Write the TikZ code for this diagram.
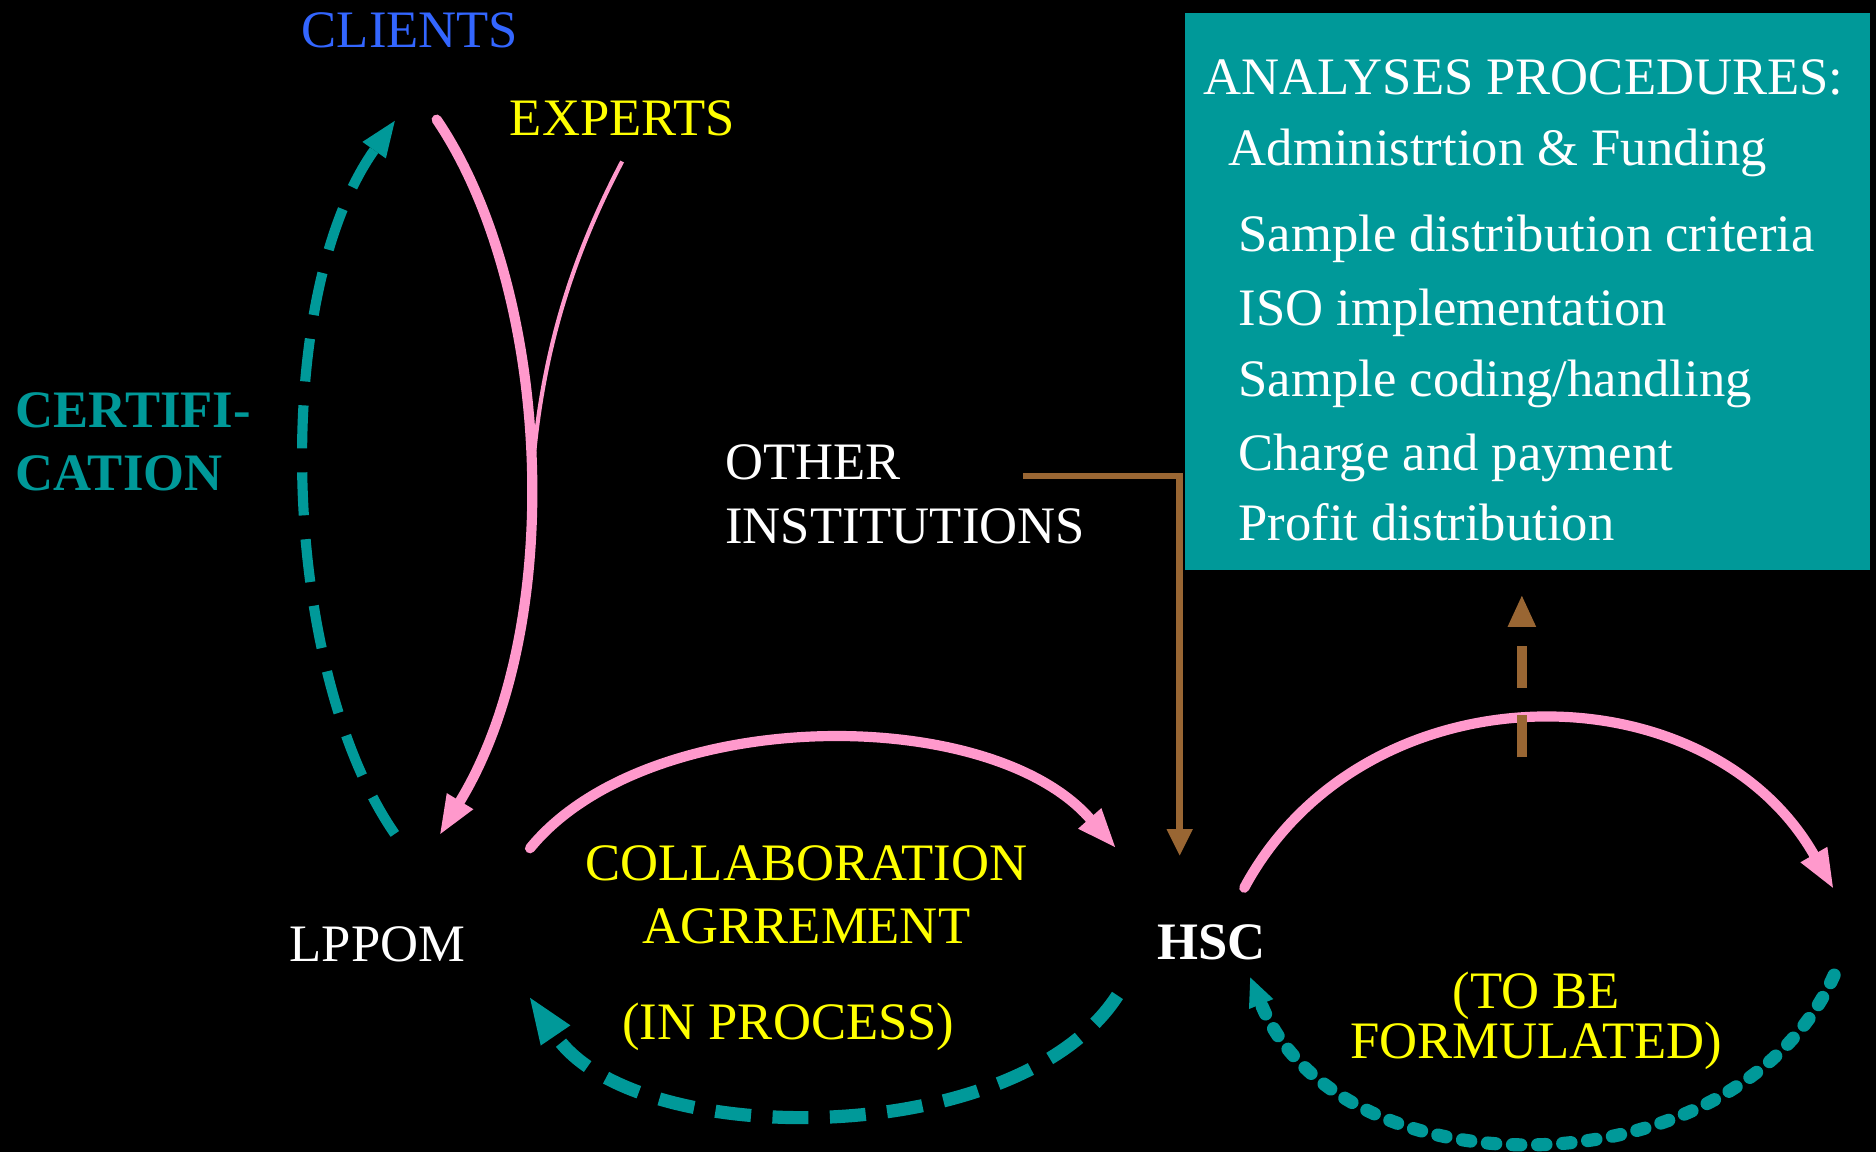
\documentclass[tikz,border=0pt]{standalone}
\usepackage{fontspec}
\setmainfont{Liberation Serif}
\usetikzlibrary{arrows.meta}
\definecolor{tealc}{HTML}{009999}
\definecolor{pinkc}{HTML}{FF99CC}
\definecolor{brownc}{HTML}{996633}
\definecolor{yellowc}{HTML}{FFFF00}
\definecolor{bluec}{HTML}{3366FF}
\begin{document}
\begin{tikzpicture}[x=1pt,y=-1pt,
  lbl/.style={inner sep=0pt, anchor=base west, font=\fontsize{44}{52}\selectfont},
  lblc/.style={lbl, anchor=base},
  bld/.style={font=\fontsize{44}{52}\selectfont\bfseries},
  pinkthick/.style={draw=pinkc, line width=8.5pt, line cap=round,
     -{Triangle[length=32pt,width=26pt,line width=0pt]}},
  pinkthin/.style={draw=pinkc, line width=3.5pt},
  tealdash/.style={draw=tealc, line width=8.5pt, dash pattern=on 36pt off 20pt,
     -{Triangle[length=30pt,width=24pt,line width=0pt]}},
  tealdashb/.style={draw=tealc, line width=11pt, dash pattern=on 30pt off 18pt,
     -{Triangle[length=38pt,width=30pt,line width=0pt]}},
  tealdot/.style={draw=tealc, line width=11pt, line cap=round, dash pattern=on 7pt off 14pt,
     -{Triangle[length=24pt,width=22pt,line width=0pt]}},
  brownln/.style={draw=brownc, line width=5.5pt,
     -{Triangle[length=22pt,width=22pt,line width=0pt]}},
  browndash/.style={draw=brownc, line width=8pt, dash pattern=on 35pt off 23pt,
     -{Triangle[length=26pt,width=24pt,line width=0pt]}}
]
\useasboundingbox (0,0) rectangle (1568,963);
\fill[black] (0,0) rectangle (1568,963);

% procedures box
\node[fill=tealc, inner sep=0pt, minimum width=573pt, minimum height=465pt, anchor=north west] (box) at (990,11) {};
\node[lbl, text=white] (ap) at (1006,79) {ANALYSES PROCEDURES:};
\node[lbl, text=white] (ad) at (1027,138) {Administrtion \& Funding};
\node[lbl, text=white] (i1) at (1035,210) {Sample distribution criteria};
\node[lbl, text=white] (i2) at (1035,272) {ISO implementation};
\node[lbl, text=white] (i3) at (1035,331) {Sample coding/handling};
\node[lbl, text=white] (i4) at (1035,393) {Charge and payment};
\node[lbl, text=white] (i5) at (1035,452) {Profit distribution};

% labels
\node[lbl, text=bluec] (clients) at (252,40) {CLIENTS};
\node[lbl, text=yellowc] (experts) at (426,113) {EXPERTS};
\node[lbl, bld, text=tealc] (cert1) at (13,357) {CERTIFI-};
\node[lbl, bld, text=tealc] (cert2) at (13,410) {CATION};
\node[lbl, text=white] (other1) at (606,401) {OTHER};
\node[lbl, text=white] (other2) at (606,454) {INSTITUTIONS};
\node[lbl, text=white] (lppom) at (242,804) {LPPOM};
\node[lblc, text=yellowc] (collab1) at (674,736) {COLLABORATION};
\node[lblc, text=yellowc] (collab2) at (674,789) {AGRREMENT};
\node[lblc, text=yellowc] (inproc) at (659,869) {(IN PROCESS)};
\node[lbl, bld, text=white] (hsc) at (967,802) {HSC};
\node[lblc, text=yellowc] (tobe1) at (1284,843) {(TO BE};
\node[lblc, text=yellowc] (tobe2) at (1284,885) {FORMULATED)};

% connector end points
\coordinate (certS) at (330,697);
\coordinate (certE) at (330,101);
\coordinate (cliS) at (365,100);
\coordinate (lppT) at (368,697);
\coordinate (expS) at (520,135);
\coordinate (expE) at (443,430);
\coordinate (colS) at (443,709);
\coordinate (hscT) at (932,708);
\coordinate (ipS) at (934,832);
\coordinate (lppB) at (443,834);
\coordinate (oiS) at (855,398);
\coordinate (hscTop) at (986,715);
\coordinate (hscR) at (1040,742);
\coordinate (farT) at (1532,742);
\coordinate (farB) at (1533,815);
\coordinate (hscB) at (1045,817);
\coordinate (upS) at (1272,633);
\coordinate (boxB) at (1272,498);

% connectors
\draw[tealdash] (certS) .. controls (235,560) and (225,250) .. (certE);
\draw[pinkthin] (expS) .. controls (470,230) and (447,320) .. (expE);
\draw[pinkthick] (cliS) .. controls (460,240) and (475,520) .. (lppT);
\draw[pinkthick] (colS) .. controls (540,590) and (825,587) .. (hscT);
\draw[tealdashb] (ipS) .. controls (850,962) and (530,962) .. (lppB);
\draw[brownln] (oiS) -| (hscTop);
\draw[pinkthick] (hscR) .. controls (1140,556) and (1425,556) .. (farT);
\draw[tealdot] (farB) .. controls (1450,1000) and (1120,1000) .. (hscB);
\draw[browndash] (upS) -- (boxB);
\end{tikzpicture}
\end{document}
